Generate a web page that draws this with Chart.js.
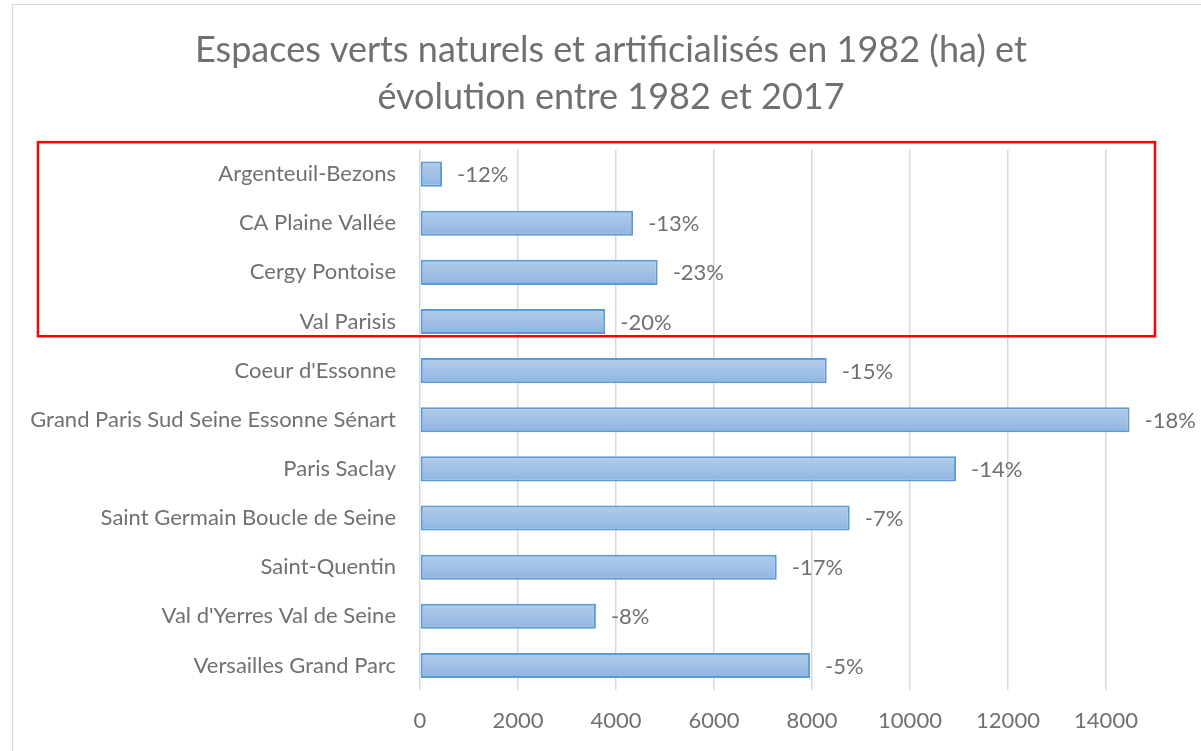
<!DOCTYPE html>
<html lang="fr">
<head>
<meta charset="utf-8">
<title>Espaces verts naturels et artificialisés</title>
<script src="https://cdn.jsdelivr.net/npm/chart.js@4.4.1/dist/chart.umd.min.js"></script>
<style>
  html, body { margin: 0; padding: 0; overflow: hidden; background: #ffffff; }
  #frame { position: absolute; left: 12px; top: 4px; width: 1250px; height: 800px; border: 1px solid #d9d9d9; }
  #wrap { position: absolute; left: 0; top: 0; width: 1232px; height: 751px; }
</style>
</head>
<body>
<div id="frame"></div>
<div id="wrap"><canvas id="chart"></canvas></div>
<script>
const territoires = [
    'Argenteuil-Bezons',
    'CA Plaine Vallée',
    'Cergy Pontoise',
    'Val Parisis',
    "Coeur d'Essonne",
    'Grand Paris Sud Seine Essonne Sénart',
    'Paris Saclay',
    'Saint Germain Boucle de Seine',
    'Saint-Quentin',
    "Val d'Yerres Val de Seine",
    'Versailles Grand Parc'
];
const surfaces1982 = [450, 4350, 4850, 3780, 8300, 14480, 10940, 8770, 7280, 3590, 7960];
const evolutions = ['-12%', '-13%', '-23%', '-20%', '-15%', '-18%', '-14%', '-7%', '-17%', '-8%', '-5%'];
const graduations = [0, 2000, 4000, 6000, 8000, 10000, 12000, 14000, 16000];
const titre = ['Espaces verts naturels et artificialisés en 1982 (ha) et', 'évolution entre 1982 et 2017'];

const GRIS = '#707070';
const POLICE = 'Lato, "Noto Sans", sans-serif';
const BAR_RATIO = 0.51;

// gradient from light blue (top) to a slightly darker blue (bottom), per bar
function remplissage(c) {
    const chart = c.chart;
    const y = chart.scales.y;
    if (!y || !chart.chartArea) return '#a3c1e8';
    const mid = y.getPixelForValue(c.dataIndex);
    const half = chart.chartArea.height / territoires.length * BAR_RATIO / 2;
    const g = chart.ctx.createLinearGradient(0, mid - half, 0, mid + half);
    g.addColorStop(0, '#b3cdeb');
    g.addColorStop(1, '#8fb4e1');
    return g;
}

// percentage labels after each bar
const etiquettes = {
    id: 'etiquettes',
    afterDatasetsDraw(chart) {
        const ctx = chart.ctx;
        ctx.save();
        ctx.font = '22px ' + POLICE;
        ctx.fillStyle = GRIS;
        ctx.textBaseline = 'middle';
        chart.getDatasetMeta(0).data.forEach((bar, i) => {
            ctx.fillText(evolutions[i], bar.x + 15, bar.y + 1);
        });
        ctx.restore();
    }
};

// red frame around the Val-d'Oise territories (first four rows)
const cadre = {
    id: 'cadre',
    afterDraw(chart) {
        const x = chart.scales.x, y = chart.scales.y;
        const step = y.getPixelForValue(1) - y.getPixelForValue(0);
        const top = y.getPixelForValue(0) - 0.65 * step;
        const bottom = y.getPixelForValue(3) + 0.3 * step;
        const left = 38;
        const right = x.getPixelForValue(15000);
        const ctx = chart.ctx;
        ctx.save();
        ctx.strokeStyle = '#ff0000';
        ctx.lineWidth = 2.5;
        ctx.strokeRect(left, top, right - left, bottom - top);
        ctx.restore();
    }
};

Chart.defaults.font.family = POLICE;
Chart.defaults.color = GRIS;

new Chart(document.getElementById('chart'), {
    type: 'bar',
    data: {
        labels: territoires,
        datasets: [{
            data: surfaces1982,
            backgroundColor: remplissage,
            borderColor: '#5b9bd5',
            borderWidth: 2,
            borderSkipped: false,
            barPercentage: BAR_RATIO,
            categoryPercentage: 1
        }]
    },
    options: {
        indexAxis: 'y',
        responsive: true,
        maintainAspectRatio: false,
        animation: false,
        layout: { padding: { left: 18, right: 28, top: 0, bottom: 0 } },
        plugins: {
            legend: { display: false },
            tooltip: { enabled: false },
            title: {
                display: true,
                text: titre,
                color: GRIS,
                font: { size: 36, weight: 'normal', lineHeight: 1.306 },
                padding: { top: 26.5, bottom: 29 }
            }
        },
        scales: {
            x: {
                min: 0,
                max: 16000,
                afterBuildTicks: scale => { scale.ticks = graduations.map(v => ({ value: v })); },
                grid: { color: '#d9d9d9', lineWidth: 1.5, drawTicks: false },
                border: { display: false },
                ticks: {
                    color: GRIS,
                    font: { size: 22 },
                    padding: 18,
                    maxRotation: 0,
                    callback: v => (v === 16000 ? '' : v)
                },
                afterFit: scale => { scale.height = 61; }
            },
            y: {
                grid: { display: false, drawTicks: false },
                border: { display: false },
                ticks: { color: GRIS, font: { size: 22 }, padding: 24, autoSkip: false },
                afterFit: scale => { scale.width = 402; }
            }
        }
    },
    plugins: [etiquettes, cadre]
});
</script>
</body>
</html>
